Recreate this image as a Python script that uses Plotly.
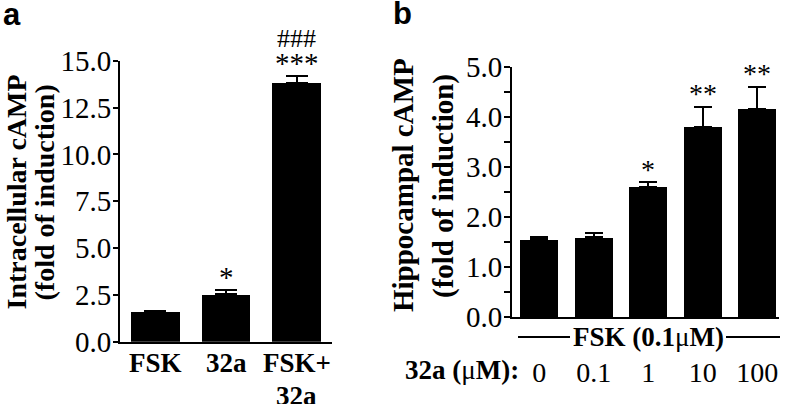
import plotly.graph_objects as go

# ---------------- data ----------------
a_categories = ["FSK", "32a", "FSK+32a"]
a_tick_labels = ["FSK", "32a", "FSK+<br>32a"]
a_values = [1.58, 2.53, 13.83]
a_errors = [0.05, 0.23, 0.37]
a_stars = ["", "*", "***"]
a_hashes = ["", "", "###"]
a_yticks = [0, 2.5, 5, 7.5, 10, 12.5, 15]
a_yticklabels = ["0.0", "2.5", "5.0", "7.5", "10.0", "12.5", "15.0"]

b_categories = ["0", "0.1", "1", "10", "100"]
b_values = [1.55, 1.59, 2.60, 3.80, 4.16]
b_errors = [0.05, 0.08, 0.09, 0.40, 0.44]
b_stars = ["", "", "*", "**", "**"]
b_yticks = [0, 1, 2, 3, 4, 5]
b_yticklabels = ["0.0", "1.0", "2.0", "3.0", "4.0", "5.0"]

a_ytitle = ["Intracellular cAMP", "(fold of induction)"]
b_ytitle = ["Hippocampal cAMP", "(fold of induction)"]
b_group_label = "<b>FSK (0.1</b>μ<b>M)</b>"
b_dose_label = "<b>32a (</b>μ<b>M):</b>"

W, H = 787, 404
SERIF = "Liberation Serif, Times New Roman, serif"
SANS = "Liberation Sans, Arial, sans-serif"


def px(x):
    return x / W


def py(y):
    return 1 - y / H


fig = go.Figure()

fig.add_trace(go.Bar(
    x=a_categories, y=a_values, width=0.69,
    marker=dict(color="black", line=dict(width=0)),
    error_y=dict(type="data", array=a_errors, arrayminus=[0] * len(a_errors),
                 symmetric=False, color="black", thickness=2, width=11),
    xaxis="x", yaxis="y", showlegend=False,
))
fig.add_trace(go.Bar(
    x=b_categories, y=b_values, width=0.70,
    marker=dict(color="black", line=dict(width=0)),
    error_y=dict(type="data", array=b_errors, arrayminus=[0] * len(b_errors),
                 symmetric=False, color="black", thickness=2, width=9),
    xaxis="x2", yaxis="y2", showlegend=False,
))

axis_line = dict(showline=True, linecolor="black", linewidth=2, showgrid=False,
                 zeroline=False, automargin=False)

fig.update_layout(
    width=W, height=H,
    margin=dict(l=0, r=0, t=0, b=0),
    paper_bgcolor="white", plot_bgcolor="white",
    bargap=0,
    xaxis=dict(domain=[px(120), px(332)], anchor="y", type="category",
               range=[-0.5, 2.5], ticks="", showticklabels=False, **axis_line),
    yaxis=dict(domain=[py(341.7), py(60.7)], anchor="x", range=[0, 15],
               tickvals=a_yticks, ticktext=a_yticklabels, ticks="outside",
               ticklen=5, tickwidth=2, tickcolor="black", ticklabelstandoff=-4,
               tickfont=dict(family=SERIF, size=29, color="black"), **axis_line),
    xaxis2=dict(domain=[px(512), px(779)], anchor="y2", type="category",
                range=[-0.5, 4.4], ticks="",
                tickfont=dict(family=SERIF, size=28, color="black"),
                ticklabelstandoff=29, **axis_line),
    yaxis2=dict(domain=[py(317), py(66.7)], anchor="x2", range=[0, 5],
                tickvals=b_yticks, ticktext=b_yticklabels, ticks="outside",
                ticklen=6, tickwidth=2, tickcolor="black", ticklabelstandoff=-4,
                minor=dict(dtick=0.5, ticks="outside", ticklen=6, tickwidth=2,
                           tickcolor="black"),
                tickfont=dict(family=SERIF, size=29, color="black"), **axis_line),
)

ann = []
# category labels, panel a (one annotation per text line)
for i, lab in enumerate(a_tick_labels):
    for j, line in enumerate(lab.split("<br>")):
        ann.append(dict(x=i, y=py(363 + 33 * j), xref="x", yref="paper", text=line,
                        showarrow=False, xanchor="center", yanchor="middle",
                        font=dict(family=SERIF, size=27, color="black", weight="bold")))
# significance marks, panel a
for i, (v, e, s) in enumerate(zip(a_values, a_errors, a_stars)):
    if s:
        ann.append(dict(x=i, y=v + e, xref="x", yref="y", text=s, showarrow=False,
                        yanchor="middle", yshift=13,
                        font=dict(family=SERIF, size=29, color="black")))
for i, (v, e, s) in enumerate(zip(a_values, a_errors, a_hashes)):
    if s:
        ann.append(dict(x=i, y=v + e, xref="x", yref="y", text=s, showarrow=False,
                        yanchor="middle", yshift=37,
                        font=dict(family=SERIF, size=26, color="black")))
# significance marks, panel b
for i, (v, e, s) in enumerate(zip(b_values, b_errors, b_stars)):
    if s:
        ann.append(dict(x=i, y=v + e, xref="x2", yref="y2", text=s, showarrow=False,
                        yanchor="middle", yshift=13,
                        font=dict(family=SERIF, size=28, color="black")))

# y titles (two lines each)
ann.append(dict(x=px(16), y=py(192.5), xref="paper", yref="paper", text=a_ytitle[0],
                textangle=-90, showarrow=False, xanchor="center", yanchor="middle",
                font=dict(family=SERIF, size=28, color="black", weight="bold")))
ann.append(dict(x=px(44), y=py(192.5), xref="paper", yref="paper", text=a_ytitle[1],
                textangle=-90, showarrow=False, xanchor="center", yanchor="middle",
                font=dict(family=SERIF, size=28, color="black", weight="bold")))
ann.append(dict(x=px(403), y=py(185), xref="paper", yref="paper", text=b_ytitle[0],
                textangle=-90, showarrow=False, xanchor="center", yanchor="middle",
                font=dict(family=SERIF, size=29, color="black", weight="bold")))
ann.append(dict(x=px(443), y=py(186), xref="paper", yref="paper", text=b_ytitle[1],
                textangle=-90, showarrow=False, xanchor="center", yanchor="middle",
                font=dict(family=SERIF, size=29, color="black", weight="bold")))

# panel letters
ann.append(dict(x=px(1), y=py(-5), xref="paper", yref="paper", text="<b>a</b>",
                showarrow=False, xanchor="left", yanchor="top",
                font=dict(family=SANS, size=31, color="black")))
ann.append(dict(x=px(391), y=py(-6), xref="paper", yref="paper", text="<b>b</b>",
                showarrow=False, xanchor="left", yanchor="top",
                font=dict(family=SANS, size=31, color="black")))

# FSK group label and dose label, panel b
ann.append(dict(x=px(648), y=py(337), xref="paper", yref="paper", text=b_group_label,
                showarrow=False, xanchor="center", yanchor="middle",
                font=dict(family=SERIF, size=27, color="black")))
ann.append(dict(x=px(462), y=py(370), xref="paper", yref="paper", text=b_dose_label,
                showarrow=False, xanchor="center", yanchor="middle",
                font=dict(family=SERIF, size=27, color="black")))

fig.update_layout(annotations=ann)

fig.add_shape(type="line", xref="paper", yref="paper", x0=px(518), x1=px(570),
              y0=py(337), y1=py(337), line=dict(color="black", width=2))
fig.add_shape(type="line", xref="paper", yref="paper", x0=px(726), x1=px(780),
              y0=py(337), y1=py(337), line=dict(color="black", width=2))

fig.write_html("out.html", config={"displayModeBar": False},
               post_script="document.body.style.margin='0';document.body.style.padding='0';")
